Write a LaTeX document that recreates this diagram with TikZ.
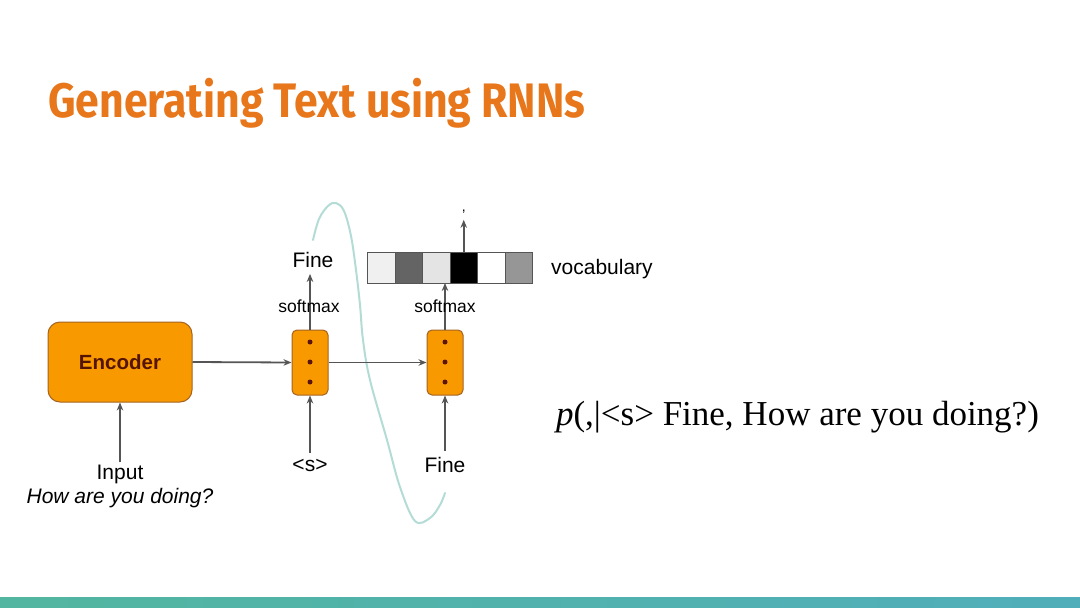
\documentclass[tikz,border=0pt]{standalone}
\usepackage{fontspec}
\setmainfont{Liberation Sans}
\newfontfamily\titlefont{Fira Sans}
\newfontfamily\formfont{Liberation Serif}
\usetikzlibrary{arrows.meta}
\definecolor{titleorange}{RGB}{232,118,26}
\definecolor{boxfill}{RGB}{248,153,0}
\definecolor{boxedge}{RGB}{165,100,35}
\definecolor{dotcol}{RGB}{90,20,10}
\definecolor{arrowgray}{RGB}{85,85,85}
\definecolor{curvecol}{RGB}{180,220,214}
\definecolor{tealA}{RGB}{82,182,160}
\definecolor{tealB}{RGB}{80,174,186}
\definecolor{encText}{RGB}{85,20,0}
\definecolor{vA}{RGB}{240,240,240}
\definecolor{vB}{RGB}{100,100,100}
\definecolor{vC}{RGB}{228,228,228}
\definecolor{vD}{RGB}{0,0,0}
\definecolor{vE}{RGB}{255,255,255}
\definecolor{vF}{RGB}{150,150,150}
\begin{document}
\begin{tikzpicture}[x=1pt,y=-1pt,
  lbl/.style={font=\fontsize{21}{24}\selectfont, inner sep=2pt, text=black},
  smx/.style={font=\fontsize{17.5}{20}\selectfont, inner sep=1pt, text=black},
  cellbox/.style={draw=boxedge, line width=1pt, fill=boxfill, rounded corners=5pt, minimum width=36pt, minimum height=65pt, inner sep=0pt},
  dotmark/.style={circle, fill=dotcol, inner sep=0pt, minimum size=5pt},
  arr/.style={draw=arrowgray, line width=1.8pt, -{Stealth[length=8pt,width=6.5pt]}},
  vcell/.style={draw=arrowgray, line width=1pt, minimum width=27.5pt, minimum height=31pt, inner sep=0pt, outer sep=0pt, anchor=west}
]
\useasboundingbox (0,0) rectangle (1080,608);
\fill[white] (0,0) rectangle (1080,608);
% bottom band
\shade[left color=tealA, right color=tealB] (0,597) rectangle (1080,608);
% title
\node[anchor=north west, inner sep=0pt, text=titleorange] (title) at (48,78)
  {\resizebox*{537pt}{50pt}{\titlefont\bfseries Generating Text using RNNs}};
% curve
\draw[curvecol, line width=2pt, line cap=round] plot[smooth, tension=0.6] coordinates
  {(313,240) (319,219) (328,206) (336,203) (344,211) (351,236) (356,270) (360,305) (363,340) (370,380) (387,440) (400,487) (415,521) (430,518) (440,505) (445,493)};
% encoder
\node[draw=boxedge, line width=1pt, fill=boxfill, rounded corners=12pt, minimum width=144pt, minimum height=80pt, inner sep=0pt,
  font=\fontsize{20.5}{24}\selectfont\bfseries, text=encText] (enc) at (120,362) {Encoder};
% cells
\node[cellbox] (c1) at (310,362.5) {};
\node[cellbox] (c2) at (445,362.5) {};
\foreach \c/\x in {1/310,2/445}{
  \node[dotmark] (d\c a) at (\x,342) {};
  \node[dotmark] (d\c b) at (\x,362) {};
  \node[dotmark] (d\c c) at (\x,382) {};
}
% vocabulary bar
\node[vcell, fill=vA] (v1) at (367.5,267.5) {};
\node[vcell, fill=vB] (v2) at (v1.east) {};
\node[vcell, fill=vC] (v3) at (v2.east) {};
\node[vcell, fill=vD] (v4) at (v3.east) {};
\node[vcell, fill=vE] (v5) at (v4.east) {};
\node[vcell, fill=vF] (v6) at (v5.east) {};
\node[lbl, anchor=west] (voc) at (549,269) {vocabulary};
% labels
\node[lbl] (input) at (120,474) {Input};
\node[lbl, font=\fontsize{21}{24}\selectfont\itshape] (how) at (120,498) {How are you doing?};
\node[lbl] (sos) at (310,465) {<s>};
\node[lbl] (fineIn) at (445,465) {Fine};
\node[lbl, inner ysep=6pt] (fineOut) at (313,260) {Fine};
\node[inner sep=1pt, font=\fontsize{14}{16}\selectfont] (comma) at (463.75,212) {,};
% arrows
\draw[arr] (input.north) -- (enc.south);
\draw[arr] (enc.east) -- (c1.west);
\draw[arr] (c1.east) -- (c2.west);
\draw[arr] ([yshift=4pt]sos.north) -- (c1.south);
\draw[arr] ([yshift=4pt]fineIn.north) -- (c2.south);
\draw[arr] (c1.north) -- (c1.north |- fineOut.south);
\draw[arr] (c2.north) -- (c2.north |- v3.south);
\draw[arr] (v4.north) -- ([yshift=-5pt]v4.north |- comma.south);
% softmax labels (drawn over the lines)
\node[smx] (sm1) at (309,306) {softmax};
\node[smx] (sm2) at (445,306) {softmax};
% formula
\node[anchor=base, inner sep=0pt, font=\fontsize{35}{40}\selectfont\formfont, text=black] (formula) at (797.5,425)
  {\textit{p}(,|<s> Fine, How are you doing?)};
\end{tikzpicture}
\end{document}
